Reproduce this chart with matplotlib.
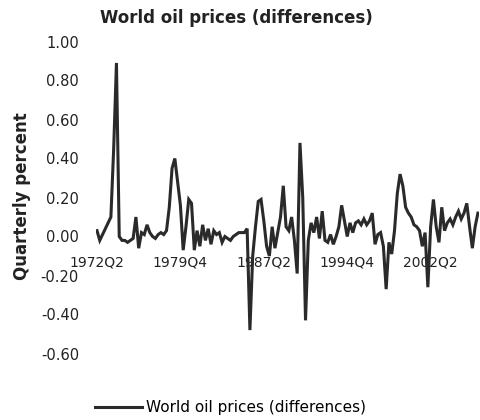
import matplotlib
matplotlib.use('Agg')
import matplotlib.pyplot as plt
import numpy as np

# quarterly differences, 1972Q2 onwards
oil_diff = [
    0.03, -0.02, 0.01, 0.04, 0.07, 0.10, 0.45, 0.89, 0.00, -0.02,
    -0.02, -0.03, -0.02, -0.01, 0.10, -0.06, 0.02, 0.01, 0.06, 0.02,
    0.00, -0.01, 0.01, 0.02, 0.01, 0.03, 0.15, 0.35, 0.40, 0.28,
    0.16, -0.07, 0.05, 0.19, 0.17, -0.07, 0.03, -0.05, 0.06, -0.02,
    0.04, -0.04, 0.03, 0.01, 0.02, -0.03, 0.00, -0.01, -0.02, 0.00,
    0.01, 0.02, 0.02, 0.02, 0.04, -0.48, -0.10, 0.05, 0.18, 0.19,
    0.08, -0.05, -0.10, 0.05, -0.06, 0.02, 0.10, 0.26, 0.05, 0.03,
    0.10, -0.02, -0.19, 0.48, 0.20, -0.43, -0.02, 0.07, 0.02, 0.10,
    -0.01, 0.13, -0.02, -0.03, 0.01, -0.04, 0.00, 0.05, 0.16, 0.08,
    0.00, 0.07, 0.02, 0.07, 0.08, 0.06, 0.09, 0.06, 0.08, 0.12,
    -0.04, 0.01, 0.02, -0.05, -0.27, -0.03, -0.09, 0.03, 0.22, 0.32,
    0.26, 0.15, 0.12, 0.10, 0.06, 0.05, 0.03, -0.05, 0.02, -0.26,
    0.05, 0.19, 0.05, -0.03, 0.15, 0.03, 0.07, 0.09, 0.06, 0.10,
    0.13, 0.09, 0.12, 0.17, 0.05, -0.06, 0.05, 0.12,
]
xtick_pos = [0, 30, 60, 90, 120]
xtick_labels = ['1972Q2', '1979Q4', '1987Q2', '1994Q4', '2002Q2']
ytick_vals = [-0.6, -0.4, -0.2, 0.0, 0.2, 0.4, 0.6, 0.8, 1.0]
ytick_labels = ['-0.60', '-0.40', '-0.20', '0.00', '0.20', '0.40', '0.60', '0.80', '1.00']

W, H = 481, 420
fig = plt.figure(figsize=(W/100, H/100), dpi=100)
ax = fig.add_axes([95.6/W, 1-353.5/H, 383.7/W, 312/H])

x = np.arange(len(oil_diff))
ax.plot(x, oil_diff, color='#2a2a2a', lw=2.2, solid_joinstyle='miter',
        label='World oil prices (differences)')

ax.set_xlim(-0.5, len(oil_diff) - 0.5)
ax.set_ylim(-0.6, 1.0)

for s in ['top', 'right', 'left']:
    ax.spines[s].set_visible(False)
ax.spines['bottom'].set_position(('data', 0))
ax.spines['bottom'].set_visible(False)

ax.set_xticks(xtick_pos)
ax.set_xticklabels(xtick_labels, fontsize=10, color='#222222')
ax.set_yticks(ytick_vals)
ax.set_yticklabels(ytick_labels, fontsize=10.5, color='#222222')
ax.tick_params(axis='x', length=0, pad=14)
ax.tick_params(axis='y', length=0, pad=12)

fig.text(236/W, 1-18/H, 'World oil prices (differences)', ha='center', va='center',
         fontsize=12, fontweight='bold', color='#222222')
fig.text(22/W, 1-196/H, 'Quarterly percent', ha='center', va='center', rotation=90,
         fontsize=12, fontweight='bold', color='#222222')

fig.legend(loc='center', bbox_to_anchor=(230.5/W, 1-407.7/H), frameon=False,
           fontsize=11, handlelength=3.1, handletextpad=0.3, borderpad=0)

plt.savefig('out.png', dpi=100)
